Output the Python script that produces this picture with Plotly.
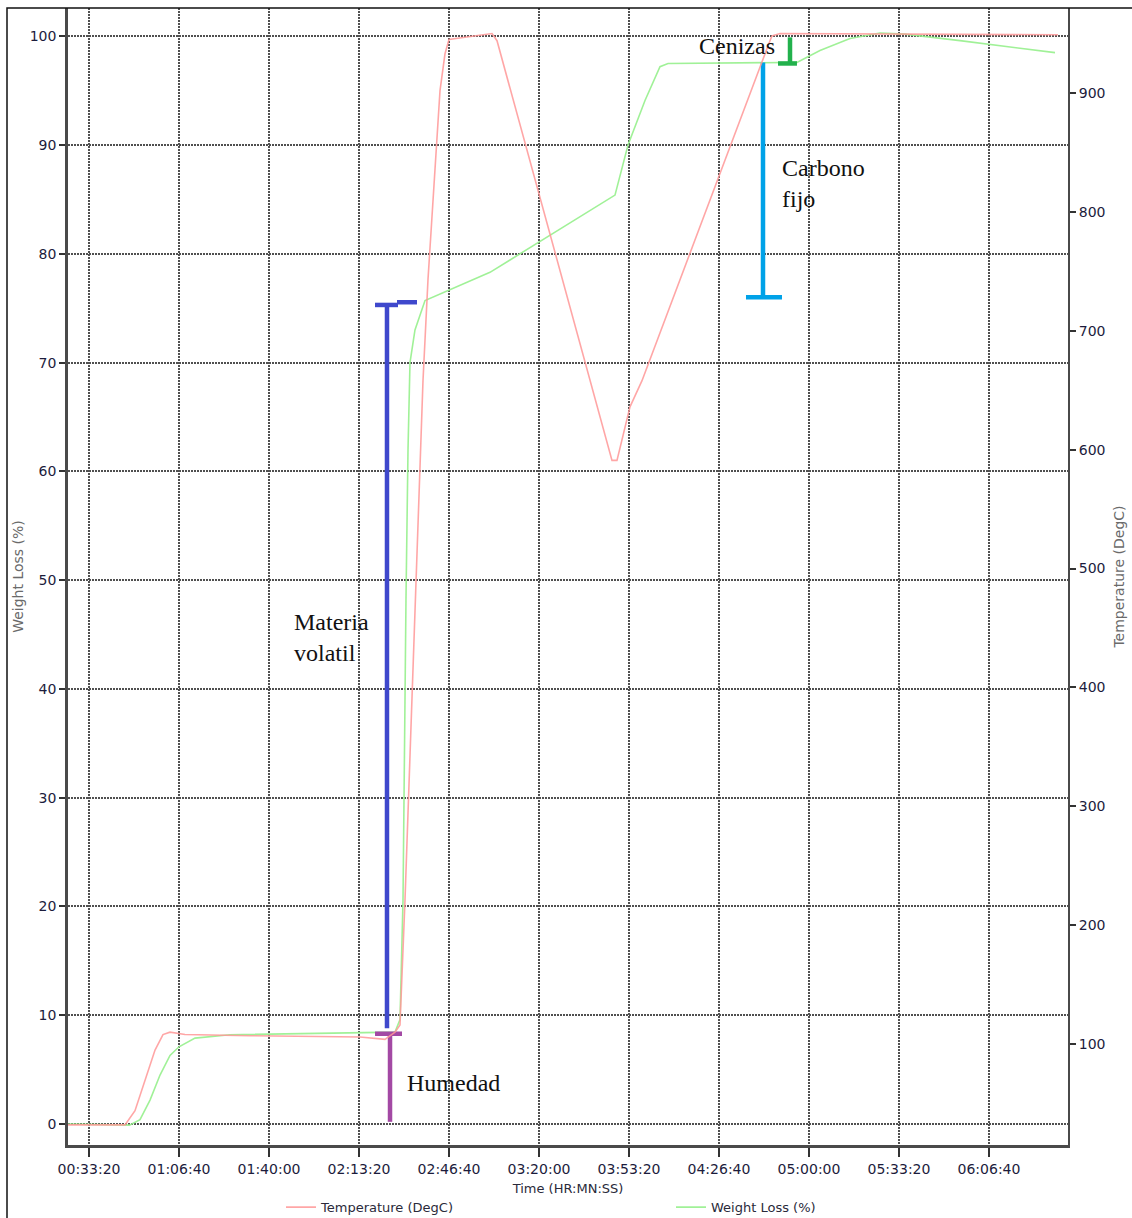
import pandas as pd
import plotly.graph_objects as go

# Elapsed time (s) and furnace temperature (DegC)
temp_time_s = [1533, 2800, 3022, 3244, 3467, 3644, 3800, 4133, 5578, 8022, 8578, 8800,
               8911, 9022, 9178, 9311, 9422, 9533, 9689, 9800, 9911, 10000, 10956, 11067,
               13622, 13733, 14022, 14289, 17133, 17178, 17356, 23533]
temp_degc = [32, 32, 44, 70, 95, 108, 110, 108, 107, 106, 104, 110,
             116, 221, 389, 541, 658, 743, 835, 902, 933, 945, 950, 944,
             591, 591, 636, 658, 944, 948, 950, 949]

# Elapsed time (s) and weight loss (%)
wl_time_s = [1533, 2900, 3133, 3356, 3578, 3800, 4000, 4356, 5133, 6689, 8800, 8911,
             8978, 9044, 9089, 9133, 9244, 9467, 9911, 10911, 13689, 13978, 14356, 14689,
             14867, 17733, 18244, 18911, 19578, 20133, 21356, 22467, 23467]
weight_loss = [0, -0.1, 0.4, 2.2, 4.5, 6.3, 7.1, 7.9, 8.2, 8.3, 8.45, 9.6,
               20.6, 48.2, 62.0, 70.0, 73.0, 75.7, 76.5, 78.3, 85.4, 90.0, 94.1, 97.2,
               97.5, 97.6, 98.7, 99.8, 100.3, 100.2, 99.6, 99.0, 98.5]

# Proximate-analysis brackets (weight loss %)
bracket_names = ["Humedad", "Materia volatil", "Carbono fijo", "Cenizas"]
bracket_time_s = [8689, 8622, 16978, 17578]
bracket_low = [0.2, 8.8, 76.0, 97.5]
bracket_high = [8.3, 75.3, 97.6, 99.9]
bracket_cap_at = ["high", "high", "low", "low"]
bracket_cap_span_s = [[8356, 8956], [8356, 8867], [16600, 17400], [17311, 17733]]
bracket_colors = ["#A349A4", "#3F48CC", "#00A2E8", "#22B14C"]
volatil_second_cap_s = [8844, 9289]
volatil_second_cap_y = 75.55

BASE = pd.Timestamp("1970-01-01")


def to_ts(seconds):
    return [BASE + pd.to_timedelta(s, unit="s") for s in seconds]


fig = go.Figure()

fig.add_trace(go.Scatter(
    x=to_ts(temp_time_s), y=temp_degc, name="Temperature (DegC)", mode="lines",
    line=dict(color="rgba(255,150,150,0.85)", width=1.6), yaxis="y2",
))
fig.add_trace(go.Scatter(
    x=to_ts(wl_time_s), y=weight_loss, name="Weight Loss (%)", mode="lines",
    line=dict(color="rgba(150,240,140,0.9)", width=1.6),
))

for name, t, lo, hi, cap, span, col in zip(bracket_names, bracket_time_s, bracket_low,
                                           bracket_high, bracket_cap_at, bracket_cap_span_s,
                                           bracket_colors):
    cap_y = hi if cap == "high" else lo
    xs = to_ts([t, t]) + [None] + to_ts(span)
    ys = [lo, hi, None, cap_y, cap_y]
    if name == "Materia volatil":
        xs += [None] + to_ts(volatil_second_cap_s)
        ys += [None, volatil_second_cap_y, volatil_second_cap_y]
    fig.add_trace(go.Scatter(x=xs, y=ys, mode="lines", showlegend=False, hoverinfo="skip",
                             line=dict(color=col, width=4.5)))

serif = dict(family="Liberation Serif", size=24, color="#111111")
labels = [
    ("Materia<br>volatil", 6511, 44.7, "left"),
    ("Humedad", 9022, 3.8, "left"),
    ("Carbono<br>fijo", 17356, 86.5, "left"),
    ("Cenizas", 17300, 99.1, "right"),
]
annotations = []
for text, t, y, anchor in labels:
    annotations.append(dict(x=to_ts([t])[0], y=y, xref="x", yref="y", text=text,
                            showarrow=False, xanchor=anchor, yanchor="middle",
                            align="left", font=serif))

tick_font = dict(family="DejaVu Sans", size=14, color="#1c1c3c")
title_font = dict(family="DejaVu Sans", size=14, color="#6a6a6a")
grid_style = dict(showgrid=True, gridcolor="#505050", gridwidth=1.8, griddash="1.5px,1.5px")

fig.update_layout(
    width=1132, height=1218,
    margin=dict(l=68, r=64, t=8, b=73, autoexpand=False),
    paper_bgcolor="white", plot_bgcolor="white",
    annotations=annotations,
    showlegend=True,
    legend=dict(orientation="h", x=0.213, y=-0.0415, xanchor="left", yanchor="top",
                entrywidth=345, entrywidthmode="pixels",
                font=dict(family="DejaVu Sans", size=13, color="#2a2a3a"),
                bgcolor="rgba(0,0,0,0)"),
    xaxis=dict(
        type="date",
        range=to_ts([1533, 23756]),
        tickformat="%H:%M:%S", tick0=to_ts([2000])[0], dtick=2000 * 1000,
        **grid_style,
        showline=True, linecolor="#4a4a4a", linewidth=2.5,
        ticks="outside", ticklen=9, tickwidth=2, tickcolor="#333333",
        tickfont=tick_font, automargin=False,
        title=dict(text="Time (HR:MN:SS)", font=dict(family="DejaVu Sans", size=13,
                                                      color="#2a2a3a"), standoff=9),
        zeroline=False,
    ),
    yaxis=dict(
        range=[-1.93, 102.6], dtick=10, tick0=0,
        **grid_style,
        showline=True, linecolor="#4a4a4a", linewidth=2.5,
        ticks="outside", ticklen=6, tickwidth=2, tickcolor="#333333",
        tickfont=tick_font, zeroline=False, automargin=False,
        title=dict(text="Weight Loss (%)", font=title_font, standoff=3),
    ),
    yaxis2=dict(
        overlaying="y", side="right",
        range=[15.1, 971.5], dtick=100, tick0=0,
        showgrid=False, zeroline=False,
        showline=True, linecolor="#4a4a4a", linewidth=2,
        ticks="outside", ticklen=6, tickwidth=2, tickcolor="#333333",
        tickfont=tick_font, automargin=False,
        title=dict(text="Temperature (DegC)", font=title_font, standoff=10),
    ),
    shapes=[
        dict(type="path", xref="paper", yref="paper",
             path="M -0.061,-0.08 L -0.061,1.0 L 1.07,1.0",
             line=dict(color="#111111", width=1.5)),
    ],
)

fig.write_html("out.html")
